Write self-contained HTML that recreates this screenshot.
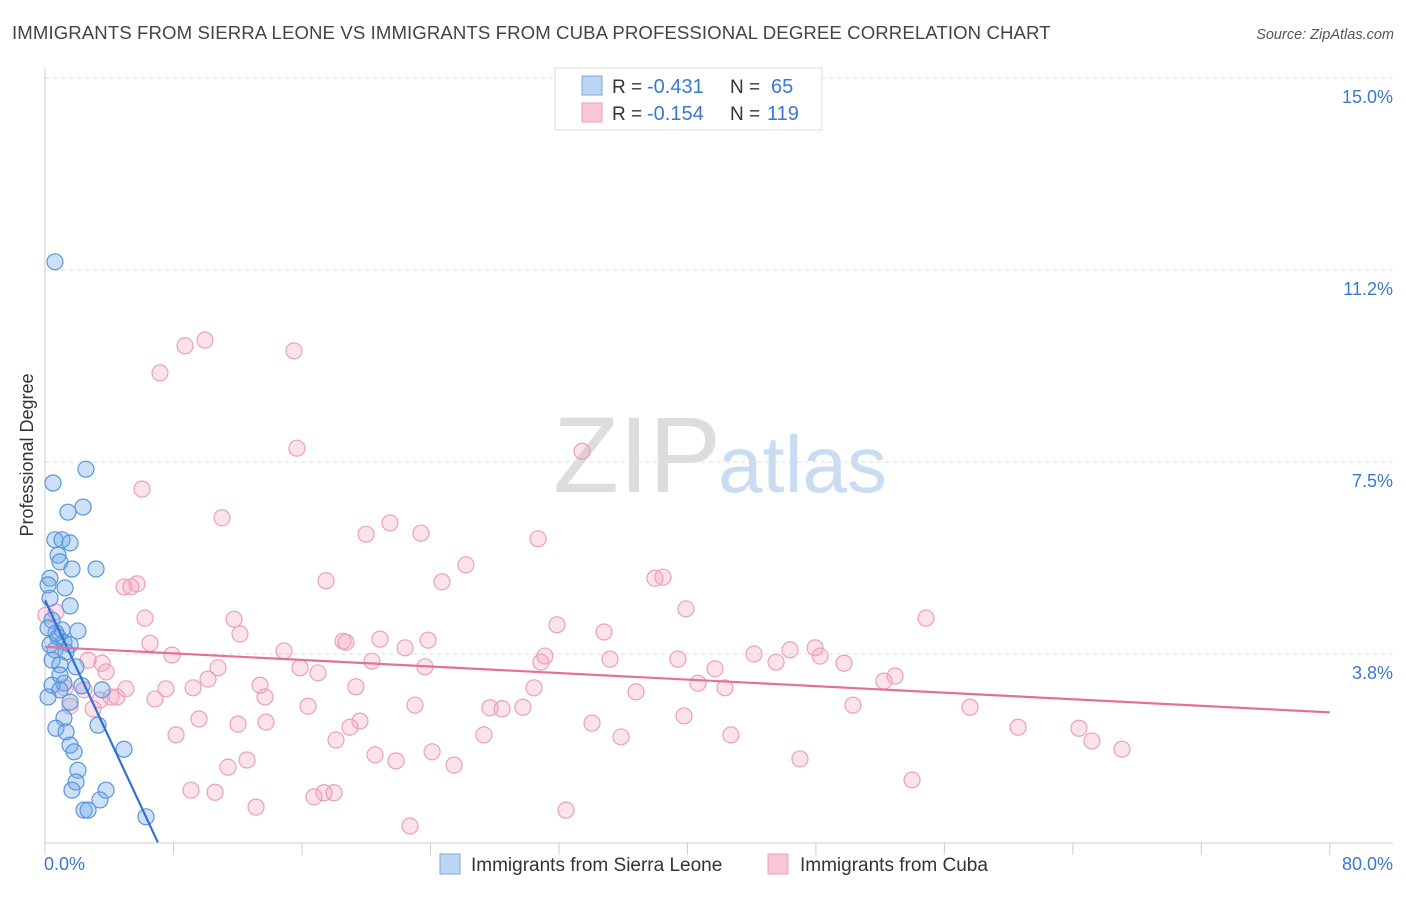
<!DOCTYPE html>
<html><head><meta charset="utf-8"><style>
body{margin:0;background:#fff;font-family:"Liberation Sans",sans-serif;}
svg text{font-family:"Liberation Sans",sans-serif;}
</style></head><body>
<svg id="chart" width="1406" height="892" xmlns="http://www.w3.org/2000/svg">
<text x="12" y="39" font-size="18.6" fill="#444" letter-spacing="0.1">IMMIGRANTS FROM SIERRA LEONE VS IMMIGRANTS FROM CUBA PROFESSIONAL DEGREE CORRELATION CHART</text>
<text x="1394" y="39" font-size="14.5" fill="#555" text-anchor="end" font-style="italic">Source: ZipAtlas.com</text>
<g>
<text x="553" y="492" font-size="108" fill="#ddd" font-family="Liberation Serif,serif">ZIP</text>
<text x="718" y="492" font-size="80" fill="#c9dcf2">atlas</text>
</g>
<g id="grid"></g>
<g id="axes"></g>
<g id="pts"></g>
<g id="trends"></g>
<text transform="translate(33,455) rotate(-90)" font-size="18" fill="#333" text-anchor="middle">Professional Degree</text>
<g>
<rect x="555" y="68" width="267" height="62" fill="#fff" stroke="#ddd"/>
<rect x="582" y="76" width="20" height="19" fill="#bcd5f5" stroke="#7aa8e0"/>
<rect x="582" y="103" width="20" height="19" fill="#f9c6d5" stroke="#eba0ba"/>
<text x="612" y="93" font-size="19" fill="#333">R =</text>
<text x="647" y="93" font-size="20" fill="#3b78d0">-0.431</text>
<text x="730" y="93" font-size="19" fill="#333">N =</text>
<text x="771" y="93" font-size="20" fill="#3b78d0">65</text>
<text x="612" y="120" font-size="19" fill="#333">R =</text>
<text x="647" y="120" font-size="20" fill="#3b78d0">-0.154</text>
<text x="730" y="120" font-size="19" fill="#333">N =</text>
<text x="767" y="120" font-size="20" fill="#3b78d0">119</text>
</g>
<g>
<rect x="440" y="854" width="20" height="20" fill="#bcd5f5" stroke="#7aa8e0"/>
<text x="471" y="871" font-size="19" fill="#333">Immigrants from Sierra Leone</text>
<rect x="768" y="854" width="20" height="20" fill="#f9c6d5" stroke="#eba0ba"/>
<text x="800" y="871" font-size="19" fill="#333">Immigrants from Cuba</text>
</g>
</svg>
<script>
const blueX=[.62,2.55,.5,2.37,1.43,.62,1.06,1.56,.81,.93,1.68,3.18,.31,.19,1.25,.31,1.56,.44,1.06,2.05,.81,1.18,1.56,.62,1.31,.44,.93,1.93,1.18,.44,2.3,.93,3.55,.19,1.56,1.18,.68,1.31,3.3,1.56,1.81,4.92,2.05,1.93,1.68,3.8,3.42,2.43,2.68,6.29,.31,.68,.19,.93];
const blueY=[11.41,7.36,7.09,6.62,6.52,5.98,5.98,5.92,5.68,5.55,5.41,5.41,5.23,5.1,5.04,4.84,4.69,4.41,4.22,4.2,4.08,3.98,3.93,3.83,3.79,3.63,3.54,3.5,3.18,3.14,3.13,3.05,3.05,2.91,2.81,2.5,2.3,2.23,2.36,1.97,1.84,1.89,1.48,1.25,1.09,1.09,.9,.7,.7,.57,3.93,4.16,4.26,3.34];
const pinkX=[8.72,9.96,7.16,15.5,15.69,33.44,6.04,11.02,21.48,19.99,23.41,30.7,26.21,17.5,24.72,4.92,5.73,5.35,37.98,38.48,39.91,54.86,6.23,11.77,31.88,34.81,12.14,6.54,18.56,18.74,20.86,23.85,14.88,22.42,7.91,2.68,3.55,3.8,44.15,47.95,46.39,48.26,31.13,30.88,35.18,39.41,45.52,49.75,20.36,23.66,15.88,17.0,10.77,10.15,41.72,52.93,52.24,13.39,7.53,9.22,2.43,5.04,4.11,4.48,19.36,30.45,40.66,42.34,36.8,6.85,13.7,16.38,23.04,27.71,28.46,29.76,50.31,57.6,2.99,1.56,9.59,13.76,12.02,19.61,18.99,34.06,39.79,60.59,64.38,8.16,18.12,27.33,35.87,42.71,65.19,67.06,20.55,24.1,21.86,25.47,12.58,11.39,47.01,53.99,9.09,10.59,16.75,17.37,18.0,13.14,32.44,22.73,.68,1.25,3.42,.06];
const pinkY=[9.77,9.88,9.24,9.67,7.77,7.71,6.97,6.41,6.31,6.09,6.11,6.0,5.49,5.18,5.16,5.06,5.12,5.06,5.23,5.25,4.63,4.45,4.45,4.43,4.32,4.18,4.14,3.96,4.0,3.98,4.04,4.02,3.81,3.87,3.73,3.63,3.57,3.4,3.75,3.87,3.83,3.71,3.71,3.59,3.65,3.65,3.59,3.57,3.61,3.5,3.48,3.38,3.48,3.26,3.46,3.32,3.22,3.14,3.07,3.09,3.05,3.07,2.91,2.91,3.11,3.09,3.18,3.09,3.01,2.87,2.91,2.73,2.75,2.7,2.68,2.71,2.75,2.71,2.68,2.73,2.48,2.42,2.38,2.44,2.32,2.4,2.54,2.32,2.3,2.17,2.07,2.17,2.13,2.17,2.05,1.89,1.78,1.84,1.66,1.58,1.68,1.54,1.7,1.29,1.09,1.05,.96,1.04,1.04,.76,.7,.39,4.57,3.09,2.85,4.51];
const blueTrend=[4.8,-0.673];
const pinkTrend=[3.89,-0.016];
const yTicks=[15.0,11.25,7.5,3.75];
const yTickLabels=["15.0%","11.2%","7.5%","3.8%"];
const xTicks=[0,8,16,24,32,40,48,56,64,72,80];
const NS="http://www.w3.org/2000/svg";
const X=v=>45+v*16.06, Y=v=>846-v*51.2;
function mk(tag,attrs,parent){const e=document.createElementNS(NS,tag);for(const k in attrs)e.setAttribute(k,attrs[k]);parent.appendChild(e);return e;}
const grid=document.getElementById('grid'),axes=document.getElementById('axes'),pts=document.getElementById('pts'),tr=document.getElementById('trends');
yTicks.forEach((t,i)=>{
 const l=mk('line',{x1:45,x2:1393,y1:Y(t),y2:Y(t),stroke:'#ddd','stroke-dasharray':'4,4'},grid);
 
 
 const tx=mk('text',{x:1393,y:Y(t)+25,'font-size':18,fill:'#3b78d0','text-anchor':'end'},axes);
 tx.textContent=yTickLabels[i];
 
 
});
mk('line',{x1:45,x2:45,y1:68,y2:843,stroke:'#ccc'},axes);
mk('line',{x1:45,x2:1393,y1:843,y2:843,stroke:'#ccc'},axes);
xTicks.forEach(t=>{const l=mk('line',{x1:X(t),x2:X(t),y1:843,y2:855,stroke:'#ccc'},axes);
 
 });
const x0=mk('text',{x:44,y:870,'font-size':18,fill:'#3b78d0'},axes);x0.textContent="0.0%";


const x1=mk('text',{x:1393,y:870,'font-size':18,fill:'#3b78d0','text-anchor':'end'},axes);x1.textContent="80.0%";


pinkX.forEach((v,i)=>{const c=mk('circle',{cx:X(v),cy:Y(pinkY[i]),r:8,fill:'rgba(244,160,190,0.3)',stroke:'#eba0ba','stroke-width':1.2},pts);
 
 });
blueX.forEach((v,i)=>{const c=mk('circle',{cx:X(v),cy:Y(blueY[i]),r:8,fill:'rgba(110,165,235,0.35)',stroke:'#5a95d8','stroke-width':1.2},pts);
 
 });
const bEnd=-blueTrend[0]/blueTrend[1]*0.985;
const bl=mk('line',{x1:X(0),y1:Y(blueTrend[0]),x2:X(bEnd),y2:Y(blueTrend[0]+blueTrend[1]*bEnd),stroke:'#2f6fd6','stroke-width':2.2},tr);


const pl=mk('line',{x1:X(0),y1:Y(pinkTrend[0]),x2:X(80),y2:Y(pinkTrend[0]+pinkTrend[1]*80),stroke:'#e4709a','stroke-width':2.2},tr);


</script>
</body></html>
